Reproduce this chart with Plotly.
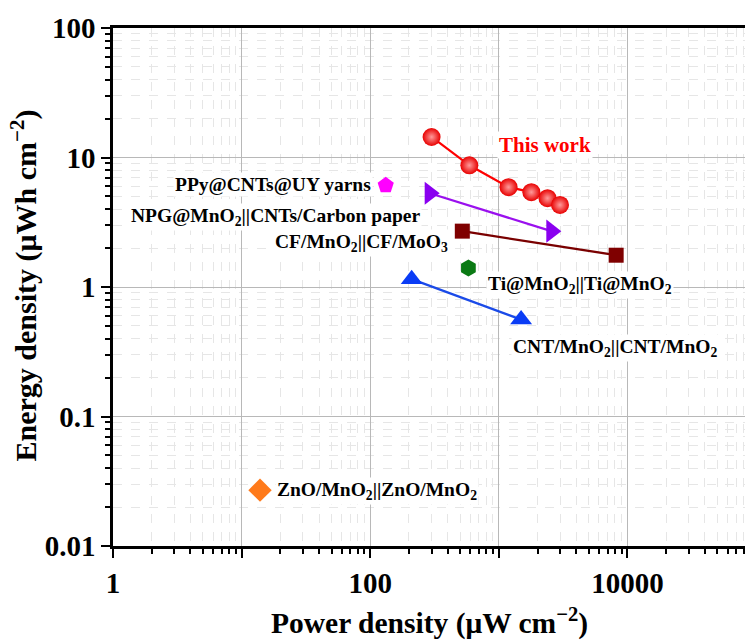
import math
import plotly.graph_objects as go

# ---------------- data ----------------
this_work_p = [300, 590, 1190, 1790, 2390, 2990]
this_work_e = [14.4, 8.7, 5.9, 5.4, 4.85, 4.3]

ppy_p = [132]
ppy_e = [6.1]

npg_p = [290, 2560]
npg_e = [5.3, 2.7]

cf_p = [520, 8170]
cf_e = [2.7, 1.76]

ti_p = [580]
ti_e = [1.4]

cnt_p = [210, 1490]
cnt_e = [1.15, 0.56]

zno_p = [13.9]
zno_e = [0.027]

x_tickvals = [1, 10, 100, 1000, 10000, 100000]
x_ticktext = ["1", "", "100", "", "10000", ""]
y_tickvals = [0.01, 0.1, 1, 10, 100]
y_ticktext = ["0.01", "0.1", "1", "10", "100"]

FONT = "Liberation Serif"

fig = go.Figure()

def add(xs, ys, symbol, size, color, lcolor=None, gradient=None):
    marker = dict(symbol=symbol, size=size, color=color, line=dict(width=0))
    if gradient:
        marker["gradient"] = dict(type="radial", color=gradient)
    fig.add_trace(go.Scatter(
        x=xs, y=ys, mode="lines+markers" if len(xs) > 1 else "markers",
        marker=marker, line=dict(color=lcolor or color, width=2.2),
        showlegend=False, hoverinfo="skip"))

add(npg_p, npg_e, "triangle-right", 20, "#8a00f0", "#9a10ee")
add(cf_p, cf_e, "square", 15, "#7f0000", "#7a0000")
add(cnt_p, cnt_e, "triangle-up", 19, "#0a3cf5", "#1a4ae8")
add(ppy_p, ppy_e, "pentagon", 17, "#ff00ff")
add(ti_p, ti_e, "hexagon", 17, "#0b7a14")
add(zno_p, zno_e, "diamond", 18, "#ff7a1a")
add(this_work_p, this_work_e, "circle", 18, "#e80000", "#ff0000", gradient="#ff9a9a")

def lab(text, x, y, xanchor="center", color="black", size=19.5):
    fig.add_annotation(
        x=math.log10(x), y=math.log10(y), xref="x", yref="y",
        text=f"<b>{text}</b>", showarrow=False, xanchor=xanchor, yanchor="middle",
        font=dict(family=FONT, size=size, color=color),
        bgcolor="white", borderpad=1)

lab("This work", 2286, 12.6, color="#ff0000", size=21)
lab("PPy@CNTs@UY yarns", 105, 6.17, xanchor="right")
lab("NPG@MnO<sub>2</sub>||CNTs/Carbon paper", 18.2, 3.5)
lab("CF/MnO<sub>2</sub>||CF/MoO<sub>3</sub>", 86.3, 2.2)
lab("Ti@MnO<sub>2</sub>||Ti@MnO<sub>2</sub>", 4240, 1.03)
lab("CNT/MnO<sub>2</sub>||CNT/MnO<sub>2</sub>", 7940, 0.34)
lab("ZnO/MnO<sub>2</sub>||ZnO/MnO<sub>2</sub>", 112, 0.0265)

# axis titles
fig.add_annotation(
    x=0.5, y=-0.146, xref="paper", yref="paper", yanchor="middle",
    text="<b>Power density (μW cm<sup>−2</sup>)</b>", showarrow=False,
    font=dict(family=FONT, size=29.5, color="black"))
fig.add_annotation(
    x=-0.14, y=0.502, xref="paper", yref="paper", xanchor="center",
    text="<b>Energy density (μWh cm<sup>−2</sup>)</b>", showarrow=False,
    textangle=-90, font=dict(family=FONT, size=30, color="black"))

axis_common = dict(
    type="log", ticks="outside", ticklen=9, tickwidth=2, tickcolor="black",
    showline=True, linewidth=2.5, linecolor="black",
    showgrid=True, gridcolor="#b8b8b8", gridwidth=1, zeroline=False,
    tickfont=dict(family=FONT, size=29, color="black", weight="bold"),
    minor=dict(ticks="outside", ticklen=5, tickwidth=1.5, tickcolor="black",
               showgrid=True, gridcolor="#e6e6e6", griddash="dash", gridwidth=1,
               dtick="D1"),
    automargin=False,
)

fig.update_layout(
    width=745, height=640,
    margin=dict(l=113, r=0, t=28, b=94),
    paper_bgcolor="white", plot_bgcolor="white",
    xaxis=dict(axis_common, range=[0, 4.914], tickvals=x_tickvals,
               ticktext=x_ticktext, mirror=True),
    yaxis=dict(axis_common, range=[-2, 2], tickvals=y_tickvals,
               ticktext=y_ticktext),
)

fig.write_html("out.html")
